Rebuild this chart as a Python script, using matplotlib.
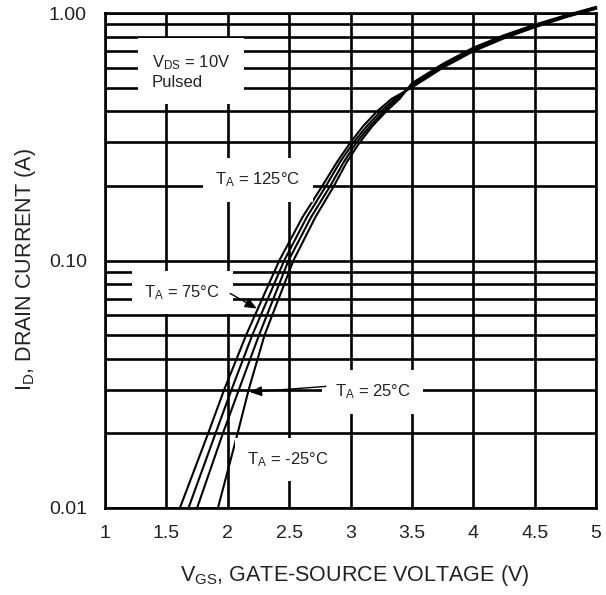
import matplotlib
matplotlib.use("Agg")
import matplotlib.pyplot as plt
import numpy as np

plt.rcParams['font.family'] = ['Liberation Sans', 'DejaVu Sans']
plt.rcParams['mathtext.default'] = 'regular'

# ---- data ----
# lower part: gate voltage at fixed drain-current levels
id_low = [0.01, 0.02, 0.03, 0.05, 0.10, 0.15, 0.20, 0.25, 0.30, 0.35, 0.40, 0.45]
vgs_low_125 = [1.61, 1.84, 1.97, 2.15, 2.42, 2.61, 2.77, 2.89, 3.00, 3.105, 3.215, 3.335]
vgs_low_75 = [1.68, 1.90, 2.03, 2.20, 2.46, 2.645, 2.80, 2.915, 3.025, 3.135, 3.245, 3.36]
vgs_low_25 = [1.75, 1.96, 2.09, 2.255, 2.495, 2.68, 2.835, 2.945, 3.05, 3.16, 3.27, 3.38]
vgs_low_m25 = [1.92, 2.08, 2.17, 2.30, 2.535, 2.715, 2.865, 2.97, 3.075, 3.18, 3.29, 3.40]
# upper part: drain current at fixed gate voltages
vgs_high = [3.5, 3.75, 4.0, 4.25, 4.5, 4.75, 5.0]
id_high_125 = [0.50, 0.60, 0.70, 0.79, 0.875, 0.96, 1.04]
id_high_75 = [0.505, 0.605, 0.707, 0.797, 0.882, 0.965, 1.045]
id_high_25 = [0.512, 0.613, 0.715, 0.805, 0.89, 0.972, 1.052]
id_high_m25 = [0.52, 0.622, 0.724, 0.813, 0.897, 0.978, 1.058]

x_ticks = [1, 1.5, 2, 2.5, 3, 3.5, 4, 4.5, 5]
x_tick_labels = ["1", "1.5", "2", "2.5", "3", "3.5", "4", "4.5", "5"]
y_ticks = [0.01, 0.1, 1.0]
y_tick_labels = ["0.01", "0.10", "1.00"]

curves = [
    (vgs_low_125, id_high_125),
    (vgs_low_75, id_high_75),
    (vgs_low_25, id_high_25),
    (vgs_low_m25, id_high_m25),
]

W, H = 606, 595
fig = plt.figure(figsize=(W / 100, H / 100), dpi=100)
ax = fig.add_axes([105 / W, 1 - 508 / H, (596 - 105) / W, (508 - 13) / H])

ax.set_yscale('log')
ax.set_xlim(1, 5)
ax.set_ylim(0.01, 1.0)

ax.yaxis.set_minor_locator(matplotlib.ticker.LogLocator(base=10, subs=np.arange(2, 10)))
ax.yaxis.set_minor_formatter(matplotlib.ticker.NullFormatter())
ax.set_xticks(x_ticks)
ax.set_xticklabels(x_tick_labels)
ax.set_yticks(y_ticks)
ax.set_yticklabels(y_tick_labels)
ax.tick_params(which='both', length=0, labelsize=14, colors='#222222')
ax.tick_params(axis='x', pad=12)
ax.tick_params(axis='y', pad=13)

ax.grid(which='both', axis='y', color='black', lw=1.9, zorder=1)
ax.grid(which='major', axis='x', color='black', lw=1.9, zorder=1)
ax.set_axisbelow(True)
for s in ax.spines.values():
    s.set_linewidth(1.9)

for vlow, ihigh in curves:
    xs = list(vlow) + list(vgs_high)
    ys = list(id_low) + list(ihigh)
    ax.plot(xs, ys, color='black', lw=1.5, clip_on=False, zorder=3,
            solid_joinstyle='round')

tk = dict(fontsize=12, color='#222222', zorder=5)

ax.text(1.383, 0.579, "V$_{DS}$ = 10V\nPulsed", ha='left', va='center',
        linespacing=1.3, bbox=dict(facecolor='white', edgecolor='none', pad=10), **tk)
ax.text(2.246, 0.212, "T$_A$ = 125°C", ha='center', va='center',
        bbox=dict(facecolor='white', edgecolor='none', pad=9), **tk)
ax.text(1.63, 0.0742, "T$_A$ = 75°C", ha='center', va='center',
        bbox=dict(facecolor='white', edgecolor='none', pad=9), **tk)
ax.text(3.18, 0.0294, "T$_A$ = 25°C", ha='center', va='center',
        bbox=dict(facecolor='white', edgecolor='none', pad=9), **tk)
ax.text(2.49, 0.0157, "T$_A$ = -25°C", ha='center', va='center',
        bbox=dict(facecolor='white', edgecolor='none', pad=9), **tk)

arrow = dict(arrowstyle='-|>,head_length=0.7,head_width=0.3', color='black', lw=1.0,
             shrinkA=0, shrinkB=0)
ax.annotate("", xy=(2.236, 0.064), xytext=(2.02, 0.0736), arrowprops=arrow, zorder=6)
ax.annotate("", xy=(2.181, 0.0294), xytext=(2.80, 0.031), arrowprops=arrow, zorder=6)

fig.text(355 / W, 1 - 581 / H, "V$_{GS}$, GATE-SOURCE VOLTAGE (V)", ha='center',
         va='baseline', fontsize=15.5, color='#222222')
fig.text(26 / W, 1 - 270 / H, "I$_D$, DRAIN CURRENT (A)", ha='center', va='center',
         rotation=90, fontsize=15.5, color='#222222')

fig.savefig("out.png", dpi=100, facecolor='white')
